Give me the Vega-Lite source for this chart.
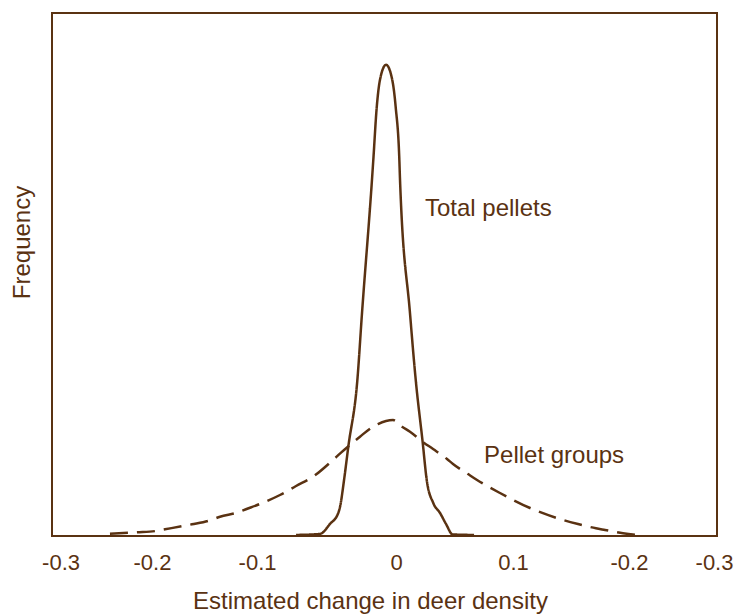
{
  "$schema": "https://vega.github.io/schema/vega-lite/v6.json",
  "width": 665,
  "height": 523,
  "autosize": {"type": "none"},
  "padding": {"left": 52, "top": 13, "right": 23, "bottom": 78},
  "background": "white",
  "config": {
    "view": {"stroke": "#5a3212", "strokeWidth": 2},
    "font": "Liberation Sans",
    "axis": {"grid": false, "domain": false, "ticks": false, "tickSize": 0, "labelColor": "#5a3212", "titleColor": "#5a3212", "labelFont": "Liberation Sans", "titleFont": "Liberation Sans", "titleFontWeight": "normal"}
  },
  "datasets": {
    "curves": [
      {"series": "Total pellets", "x": -0.0798, "y": 0.002},
      {"series": "Total pellets", "x": -0.0582, "y": 0.004},
      {"series": "Total pellets", "x": -0.0492, "y": 0.023},
      {"series": "Total pellets", "x": -0.0417, "y": 0.044},
      {"series": "Total pellets", "x": -0.0401, "y": 0.056},
      {"series": "Total pellets", "x": -0.0365, "y": 0.107},
      {"series": "Total pellets", "x": -0.0327, "y": 0.170},
      {"series": "Total pellets", "x": -0.0245, "y": 0.298},
      {"series": "Total pellets", "x": -0.0203, "y": 0.426},
      {"series": "Total pellets", "x": -0.0113, "y": 0.681},
      {"series": "Total pellets", "x": -0.0101, "y": 0.719},
      {"series": "Total pellets", "x": -0.0070, "y": 0.820},
      {"series": "Total pellets", "x": -0.0041, "y": 0.872},
      {"series": "Total pellets", "x": 0.0014, "y": 0.901},
      {"series": "Total pellets", "x": 0.0070, "y": 0.872},
      {"series": "Total pellets", "x": 0.0101, "y": 0.820},
      {"series": "Total pellets", "x": 0.0134, "y": 0.719},
      {"series": "Total pellets", "x": 0.0140, "y": 0.681},
      {"series": "Total pellets", "x": 0.0230, "y": 0.426},
      {"series": "Total pellets", "x": 0.0282, "y": 0.298},
      {"series": "Total pellets", "x": 0.0345, "y": 0.178},
      {"series": "Total pellets", "x": 0.0381, "y": 0.107},
      {"series": "Total pellets", "x": 0.0440, "y": 0.063},
      {"series": "Total pellets", "x": 0.0501, "y": 0.044},
      {"series": "Total pellets", "x": 0.0555, "y": 0.023},
      {"series": "Total pellets", "x": 0.0615, "y": 0.003},
      {"series": "Total pellets", "x": 0.0808, "y": 0.002},
      {"series": "Pellet groups", "x": -0.2477, "y": 0.0044},
      {"series": "Pellet groups", "x": -0.2233, "y": 0.0071},
      {"series": "Pellet groups", "x": -0.2062, "y": 0.0096},
      {"series": "Pellet groups", "x": -0.1980, "y": 0.0128},
      {"series": "Pellet groups", "x": -0.1818, "y": 0.0191},
      {"series": "Pellet groups", "x": -0.1737, "y": 0.0224},
      {"series": "Pellet groups", "x": -0.1565, "y": 0.0306},
      {"series": "Pellet groups", "x": -0.1484, "y": 0.0369},
      {"series": "Pellet groups", "x": -0.1331, "y": 0.0446},
      {"series": "Pellet groups", "x": -0.1250, "y": 0.0511},
      {"series": "Pellet groups", "x": -0.1096, "y": 0.0637},
      {"series": "Pellet groups", "x": -0.0943, "y": 0.0784},
      {"series": "Pellet groups", "x": -0.0798, "y": 0.0956},
      {"series": "Pellet groups", "x": -0.0645, "y": 0.1134},
      {"series": "Pellet groups", "x": -0.0465, "y": 0.1453},
      {"series": "Pellet groups", "x": -0.0392, "y": 0.1593},
      {"series": "Pellet groups", "x": -0.0293, "y": 0.1772},
      {"series": "Pellet groups", "x": -0.0221, "y": 0.1899},
      {"series": "Pellet groups", "x": -0.0104, "y": 0.2090},
      {"series": "Pellet groups", "x": -0.0059, "y": 0.2141},
      {"series": "Pellet groups", "x": 0.0077, "y": 0.2218},
      {"series": "Pellet groups", "x": 0.0158, "y": 0.2090},
      {"series": "Pellet groups", "x": 0.0230, "y": 0.1994},
      {"series": "Pellet groups", "x": 0.0347, "y": 0.1797},
      {"series": "Pellet groups", "x": 0.0438, "y": 0.1663},
      {"series": "Pellet groups", "x": 0.0564, "y": 0.1472},
      {"series": "Pellet groups", "x": 0.0618, "y": 0.1377},
      {"series": "Pellet groups", "x": 0.0753, "y": 0.1185},
      {"series": "Pellet groups", "x": 0.0835, "y": 0.1071},
      {"series": "Pellet groups", "x": 0.1042, "y": 0.0822},
      {"series": "Pellet groups", "x": 0.1313, "y": 0.0535},
      {"series": "Pellet groups", "x": 0.1583, "y": 0.0325},
      {"series": "Pellet groups", "x": 0.1746, "y": 0.0229},
      {"series": "Pellet groups", "x": 0.1908, "y": 0.0147},
      {"series": "Pellet groups", "x": 0.1990, "y": 0.0115},
      {"series": "Pellet groups", "x": 0.2152, "y": 0.0052},
      {"series": "Pellet groups", "x": 0.2323, "y": 0.0013}
    ],
    "labels": [
      {"label": "Total pellets", "x": 0.0365, "y": 0.612},
      {"label": "Pellet groups", "x": 0.0898, "y": 0.1396}
    ]
  },
  "layer": [
    {
      "data": {"name": "curves"},
      "mark": {"type": "line", "interpolate": "monotone", "color": "#5a3212", "strokeWidth": 2.5},
      "encoding": {
        "x": {
          "field": "x", "type": "quantitative",
          "scale": {"domain": [-0.3, 0.3], "nice": false, "zero": false},
          "axis": {
            "values": [-0.2923, -0.2098, -0.115, 0.0104, 0.116, 0.2206, 0.2973],
            "labelExpr": "datum.value < -0.25 ? '-0.3' : datum.value < -0.15 ? '-0.2' : datum.value < -0.05 ? '-0.1' : datum.value < 0.05 ? '0' : datum.value < 0.15 ? '0.1' : datum.value < 0.25 ? '-0.2' : '-0.3'",
            "labelFontSize": 22,
            "labelBaseline": "alphabetic",
            "labelPadding": 33,
            "labelFlush": false,
            "labelOverlap": false,
            "title": "Estimated change in deer density",
            "titleFontSize": 24,
            "titleBaseline": "alphabetic",
            "titleX": 318,
            "titleY": 72
          }
        },
        "y": {
          "field": "y", "type": "quantitative",
          "scale": {"domain": [0, 1], "nice": false},
          "axis": {"labels": false, "title": "Frequency", "titleFontSize": 24, "titlePadding": 18, "titleY": 229}
        },
        "detail": {"field": "series"},
        "strokeDash": {
          "field": "series", "type": "nominal",
          "scale": {"domain": ["Total pellets", "Pellet groups"], "range": [[1, 0], [18, 9]]},
          "legend": null
        }
      }
    },
    {
      "data": {"name": "labels"},
      "mark": {"type": "text", "align": "left", "baseline": "alphabetic", "fontSize": 24, "color": "#5a3212", "font": "Liberation Sans"},
      "encoding": {
        "x": {"field": "x", "type": "quantitative"},
        "y": {"field": "y", "type": "quantitative"},
        "text": {"field": "label"}
      }
    }
  ]
}
